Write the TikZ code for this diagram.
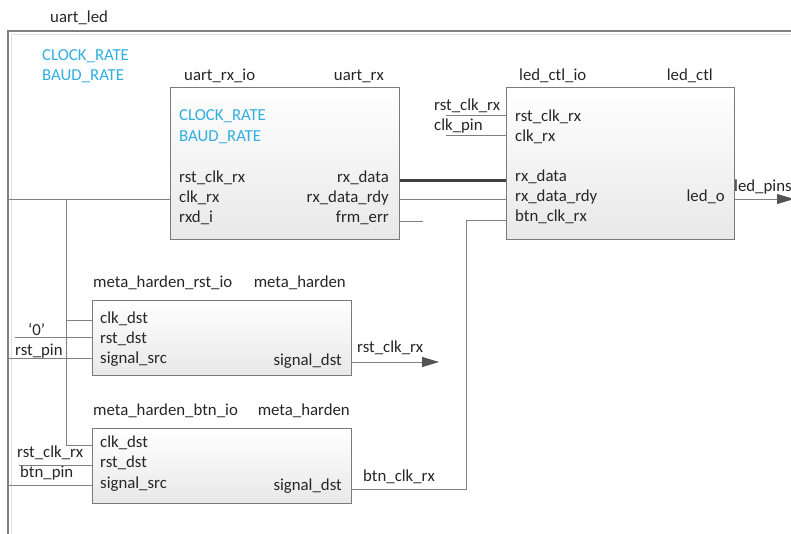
\documentclass[tikz,border=0pt]{standalone}
\usepackage{fontspec}
\setmainfont{Carlito}
\usetikzlibrary{arrows.meta}
\definecolor{txt}{HTML}{262626}
\definecolor{param}{HTML}{2FAEE0}
\definecolor{wire}{HTML}{808080}
\definecolor{boxline}{HTML}{7A7A7A}
\definecolor{bus}{HTML}{404040}
\tikzset{
  block/.style={draw=boxline, line width=1pt, top color=white, bottom color=black!9,
    anchor=north west, inner sep=0pt},
  lbl/.style={text=txt, inner sep=0pt, anchor=base west},
  rlbl/.style={text=txt, inner sep=0pt, anchor=base east},
  prm/.style={text=param, inner sep=0pt, anchor=base west},
  wireline/.style={draw=wire, line width=1pt},
  busline/.style={draw=bus, line width=3pt},
  outarrow/.style={wireline, -{Triangle[length=17pt,width=10pt,color=bus!90]}, shorten >=0pt}
}
\begin{document}
\begin{tikzpicture}[x=1pt, y=-1pt, font=\fontsize{16.8}{20}\selectfont]
\useasboundingbox (0,0) rectangle (791,533);

% top-level frame (open to the right and bottom)
\draw[draw=black!12, line width=1pt] (11,540) -- (11,34) -- (800,34);
\draw[wireline, line width=1.2pt] (8,540) -- (8,31) -- (800,31);
\node[lbl] (top) at (50,22) {uart\_led};
\node[prm] (tcr) at (42,60) {CLOCK\_RATE};
\node[prm] (tbr) at (42,80.5) {BAUD\_RATE};

% ---------------- uart_rx ----------------
\node[block, minimum width=229pt, minimum height=152pt] (urx) at (170,87) {};
\node[lbl] (urxi) at (184,80.5) {uart\_rx\_io};
\node[rlbl] (urxt) at (384,80.5) {uart\_rx};
\node[prm] (ucr) at (179,120.5) {CLOCK\_RATE};
\node[prm] (ubr) at (179,141) {BAUD\_RATE};
\node[lbl] (urst) at (179,182) {rst\_clk\_rx};
\node[lbl] (uclk) at (179,202) {clk\_rx};
\node[lbl] (urxd) at (179,222) {rxd\_i};
\node[rlbl] (udat) at (389,182) {rx\_data};
\node[rlbl] (urdy) at (389,202) {rx\_data\_rdy};
\node[rlbl] (uerr) at (389,222) {frm\_err};

% ---------------- led_ctl ----------------
\node[block, minimum width=228pt, minimum height=152pt] (led) at (506,87) {};
\node[lbl] (ledi) at (519,80.5) {led\_ctl\_io};
\node[rlbl] (ledt) at (713,80.5) {led\_ctl};
\node[lbl] (lrst) at (515,121) {rst\_clk\_rx};
\node[lbl] (lclk) at (515,141) {clk\_rx};
\node[lbl] (ldat) at (515,181) {rx\_data};
\node[lbl] (lrdy) at (515,201) {rx\_data\_rdy};
\node[lbl] (lbtn) at (515,221) {btn\_clk\_rx};
\node[rlbl] (lout) at (725,201) {led\_o};
\node[lbl] (xrst) at (434,110) {rst\_clk\_rx};
\node[lbl] (xclk) at (434,130) {clk\_pin};
\node[lbl] (xpins) at (734,191) {led\_pins};

% ---------------- meta_harden (reset) ----------------
\node[block, minimum width=259pt, minimum height=75pt] (mhr) at (92,300) {};
\node[lbl] (mhri) at (93,287) {meta\_harden\_rst\_io};
\node[rlbl] (mhrt) at (346,287) {meta\_harden};
\node[lbl] (rclk) at (100,323) {clk\_dst};
\node[lbl] (rrst) at (100,343) {rst\_dst};
\node[lbl] (rsrc) at (100,363) {signal\_src};
\node[rlbl] (rdst) at (342,365) {signal\_dst};
\node[lbl] (zero) at (28,335) {‘0’};
\node[lbl] (rpin) at (15,355) {rst\_pin};
\node[lbl] (rout) at (357,352) {rst\_clk\_rx};

% ---------------- meta_harden (button) ----------------
\node[block, minimum width=259pt, minimum height=75pt] (mhb) at (92,428) {};
\node[lbl] (mhbi) at (93,415) {meta\_harden\_btn\_io};
\node[rlbl] (mhbt) at (350,415) {meta\_harden};
\node[lbl] (bclk) at (100,447) {clk\_dst};
\node[lbl] (brst) at (100,467) {rst\_dst};
\node[lbl] (bsrc) at (100,488) {signal\_src};
\node[rlbl] (bdst) at (342,490) {signal\_dst};
\node[lbl] (brin) at (17,457) {rst\_clk\_rx};
\node[lbl] (bpin) at (20,477) {btn\_pin};
\node[lbl] (bout) at (363,481) {btn\_clk\_rx};

% wire end points
\coordinate (clkin) at (8,199);
\coordinate (clktap) at (66,199);
\coordinate (zeroin) at (15,337);
\coordinate (rpinin) at (8,358);
\coordinate (brinin) at (19,465);
\coordinate (bpinin) at (8,485);
\coordinate (errend) at (423,221);
\coordinate (xrstin) at (446,115);
\coordinate (xclkin) at (446,135);
\coordinate (rtip) at (439,362);
\coordinate (ltip) at (794,199);
\coordinate (bturn) at (466,489);

% clock distribution
\draw[wireline] (clkin) -- (urx.west |- clkin);
\draw[wireline] (clktap) |- (mhb.west |- 0,445);
\draw[wireline] (clktap |- 0,320) -- (mhr.west |- 0,320);

% meta_harden (reset) wiring
\draw[wireline] (zeroin) -- (mhr.west |- zeroin);
\draw[wireline] (rpinin) -- (mhr.west |- rpinin);
\draw[outarrow] (mhr.east |- rtip) -- (rtip);

% meta_harden (button) wiring
\draw[wireline] (brinin) -- (mhb.west |- brinin);
\draw[wireline] (bpinin) -- (mhb.west |- bpinin);
\draw[wireline] (mhb.east |- bturn) -- (bturn) |- (led.west |- 0,220);

% uart_rx to led_ctl
\draw[busline] (urx.east |- 0,180) -- (led.west |- 0,180);
\draw[wireline] (urx.east |- 0,199) -- (led.west |- 0,199);
\draw[wireline] (urx.east |- errend) -- (errend);
\draw[wireline] (xrstin) -- (led.west |- xrstin);
\draw[wireline] (xclkin) -- (led.west |- xclkin);
\draw[outarrow] (led.east |- ltip) -- (ltip);
\end{tikzpicture}
\end{document}
